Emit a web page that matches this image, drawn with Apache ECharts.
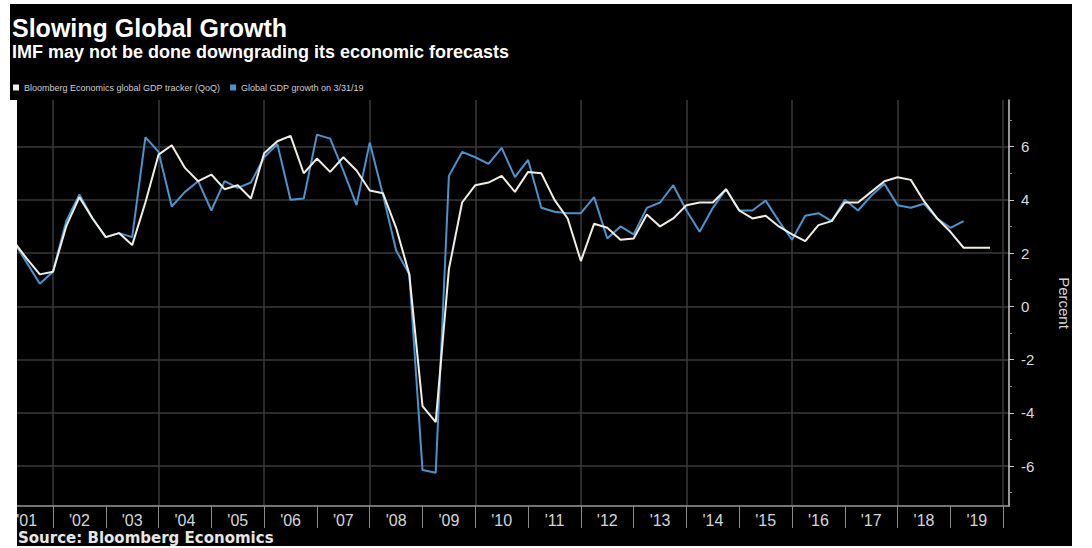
<!DOCTYPE html>
<html>
<head>
<meta charset="utf-8">
<script src="https://cdn.jsdelivr.net/npm/echarts@6/dist/echarts.min.js"></script>
<style>
  html, body { margin: 0; padding: 0; background: #fff; }
  #chart { position: absolute; left: 10px; top: 4px; width: 1062px; height: 542px; }
  #edge { position: absolute; left: 10px; top: 100px; width: 7px; height: 448px; background: #fff; }
</style>
</head>
<body>
<div id="chart"></div>
<div id="edge"></div>
<script>
// quarter ends, tracker runs to Q3 2019, IMF series to Q1 2019
const quarters = [
  '2001Q1','2001Q2','2001Q3','2001Q4','2002Q1','2002Q2','2002Q3','2002Q4',
  '2003Q1','2003Q2','2003Q3','2003Q4','2004Q1','2004Q2','2004Q3','2004Q4',
  '2005Q1','2005Q2','2005Q3','2005Q4','2006Q1','2006Q2','2006Q3','2006Q4',
  '2007Q1','2007Q2','2007Q3','2007Q4','2008Q1','2008Q2','2008Q3','2008Q4',
  '2009Q1','2009Q2','2009Q3','2009Q4','2010Q1','2010Q2','2010Q3','2010Q4',
  '2011Q1','2011Q2','2011Q3','2011Q4','2012Q1','2012Q2','2012Q3','2012Q4',
  '2013Q1','2013Q2','2013Q3','2013Q4','2014Q1','2014Q2','2014Q3','2014Q4',
  '2015Q1','2015Q2','2015Q3','2015Q4','2016Q1','2016Q2','2016Q3','2016Q4',
  '2017Q1','2017Q2','2017Q3','2017Q4','2018Q1','2018Q2','2018Q3','2018Q4',
  '2019Q1','2019Q2','2019Q3'
];

const trackerValues = [
  2.45, 1.8, 1.2, 1.3,   3.0, 4.1, 3.3, 2.6,
  2.75, 2.3, 3.9, 5.7,   6.05, 5.2, 4.7, 4.95,
  4.4, 4.55, 4.05, 5.75, 6.2, 6.4, 5.0, 5.55,
  5.05, 5.6, 5.1, 4.35,  4.25, 2.95, 1.2, -3.75,
  -4.35, 1.4, 3.9, 4.55, 4.65, 4.9, 4.3, 5.05,
  5.0, 4.0, 3.3, 1.7,    3.1, 2.95, 2.5, 2.55,
  3.45, 3.0, 3.3, 3.8,   3.9, 3.9, 4.4, 3.6,
  3.3, 3.4, 3.0, 2.7,    2.45, 3.05, 3.2, 3.9,
  3.9, 4.3, 4.7, 4.85,   4.75, 3.95, 3.3, 2.8,
  2.2, 2.2, 2.2
];

const imfValues = [
  2.45, 1.65, 0.85, 1.3, 3.2, 4.2, 3.3, 2.6,
  2.75, 2.6, 6.35, 5.8,  3.75, 4.3, 4.7, 3.6,
  4.7, 4.45, 4.65, 5.6,  6.1, 4.0, 4.05, 6.45,
  6.3, 5.1, 3.8, 6.15,   4.2, 2.1, 1.2, -6.15,
  -6.25, 4.9, 5.8, 5.6,  5.35, 5.95, 4.85, 5.5,
  3.7, 3.55, 3.5, 3.5,   4.1, 2.55, 3.0, 2.7,
  3.7, 3.9, 4.55, 3.6,   2.8, 3.7, 4.4, 3.6,
  3.6, 3.97, 3.2, 2.5,   3.4, 3.5, 3.2, 4.0,
  3.6, 4.15, 4.6, 3.8,   3.7, 3.85, 3.3, 2.95,
  3.2
];

const yearLabels = ["'01","'02","'03","'04","'05","'06","'07","'08","'09","'10",
  "'11","'12","'13","'14","'15","'16","'17","'18","'19"];
const yearStarts = [2002, 2003, 2004, 2005, 2006, 2007, 2008, 2009, 2010, 2011,
  2012, 2013, 2014, 2015, 2016, 2017, 2018, 2019, 2020];
const yearMids = [2001.5, 2002.5, 2003.5, 2004.5, 2005.5, 2006.5, 2007.5, 2008.5, 2009.5, 2010.5,
  2011.5, 2012.5, 2013.5, 2014.5, 2015.5, 2016.5, 2017.5, 2018.5, 2019.5];
const gridYears = [2002, 2004, 2006, 2008, 2010, 2012, 2014, 2016, 2018, 2020];
const yTicks = [-6, -4, -2, 0, 2, 4, 6];
const yMinorTicks = [-7, -5, -3, -1, 1, 3, 5, 7];

// '2008Q4' -> 2009.0 (plotted at quarter end)
const quarterEnd = (q) => Number(q.slice(0, 4)) + Number(q.slice(5)) * 0.25;

const toPairs = (values) => values.map((v, i) => [quarterEnd(quarters[i]), v]);

const xMin = 2001.318;
const xMax = 2020.11;
const font = 'Liberation Sans, Arial, sans-serif';

const chart = echarts.init(document.getElementById('chart'), null, { renderer: 'svg' });

chart.setOption({
  animation: false,
  backgroundColor: '#000',
  title: [
    {
      text: 'Slowing Global Growth',
      left: 2,
      top: 11,
      padding: 0,
      textStyle: { color: '#fff', fontSize: 25, fontWeight: 'bold', fontFamily: font },
    },
    {
      text: 'IMF may not be done downgrading its economic forecasts',
      left: 2,
      top: 39,
      padding: 0,
      textStyle: { color: '#fff', fontSize: 18, fontWeight: 'bold', fontFamily: font },
    },
    {
      text: 'Source: Bloomberg Economics',
      left: 8,
      top: 526,
      padding: 0,
      textStyle: { color: '#e6e6e6', fontSize: 15, fontWeight: 'bold', fontFamily: 'DejaVu Sans, sans-serif' },
    },
  ],
  legend: {
    left: 3,
    top: 79,
    padding: 0,
    icon: 'rect',
    itemWidth: 6,
    itemHeight: 6,
    itemGap: 10,
    textStyle: { color: '#cfcfcf', fontSize: 9, fontFamily: font },
    data: ['Bloomberg Economics global GDP tracker (QoQ)', 'Global GDP growth on 3/31/19'],
  },
  grid: { left: 7, right: 63, top: 96, bottom: 40, outerBoundsMode: 'none' },
  xAxis: [
    {
      type: 'value',
      min: xMin,
      max: xMax,
      axisLine: { show: true, onZero: false, lineStyle: { color: '#9a9a9a', width: 1.5 } },
      axisTick: { show: false, customValues: gridYears },
      axisLabel: { show: false },
      splitLine: { show: true, lineStyle: { color: '#3a3a3a', width: 1.5 } },
    },
    {
      type: 'value',
      min: xMin,
      max: xMax,
      position: 'bottom',
      axisLine: { show: false, onZero: false },
      axisTick: {
        show: true,
        customValues: yearStarts,
        length: 22,
        lineStyle: { color: '#8a8a8a', width: 1 },
      },
      axisLabel: {
        show: true,
        customValues: yearMids,
        margin: 6,
        color: '#d6d6d6',
        fontSize: 16,
        fontFamily: font,
        formatter: (v) => yearLabels[Math.round(v - 2001.5)],
      },
      splitLine: { show: false },
    },
  ],
  yAxis: [
    {
      type: 'value',
      position: 'right',
      min: -7.5,
      max: 7.75,
      name: 'Percent',
      nameLocation: 'middle',
      nameRotate: -90,
      nameGap: 48,
      nameTextStyle: { color: '#d6d6d6', fontSize: 15, fontFamily: font },
      axisLine: { show: true, lineStyle: { color: '#c8c8c8', width: 1.5 } },
      axisTick: { show: true, customValues: yTicks, length: 5, lineStyle: { color: '#c8c8c8' } },
      axisLabel: { customValues: yTicks, margin: 12, color: '#dcdcdc', fontSize: 15, fontFamily: font },
      splitLine: { show: true, lineStyle: { color: '#3a3a3a', width: 1.5 } },
    },
    {
      type: 'value',
      position: 'right',
      min: -7.5,
      max: 7.75,
      axisLine: { show: false },
      axisTick: { show: true, customValues: yMinorTicks, length: 3, lineStyle: { color: '#8a8a8a' } },
      axisLabel: { show: false },
      splitLine: { show: false },
    },
  ],
  series: [
    {
      name: 'Global GDP growth on 3/31/19',
      type: 'line',
      data: toPairs(imfValues),
      symbol: 'none',
      z: 2,
      lineStyle: { color: '#4a93cf', width: 2 },
      itemStyle: { color: '#4a93cf' },
    },
    {
      name: 'Bloomberg Economics global GDP tracker (QoQ)',
      type: 'line',
      data: toPairs(trackerValues),
      symbol: 'none',
      z: 3,
      lineStyle: { color: '#f2eee4', width: 2 },
      itemStyle: { color: '#f2eee4' },
    },
  ],
});
</script>
</body>
</html>
